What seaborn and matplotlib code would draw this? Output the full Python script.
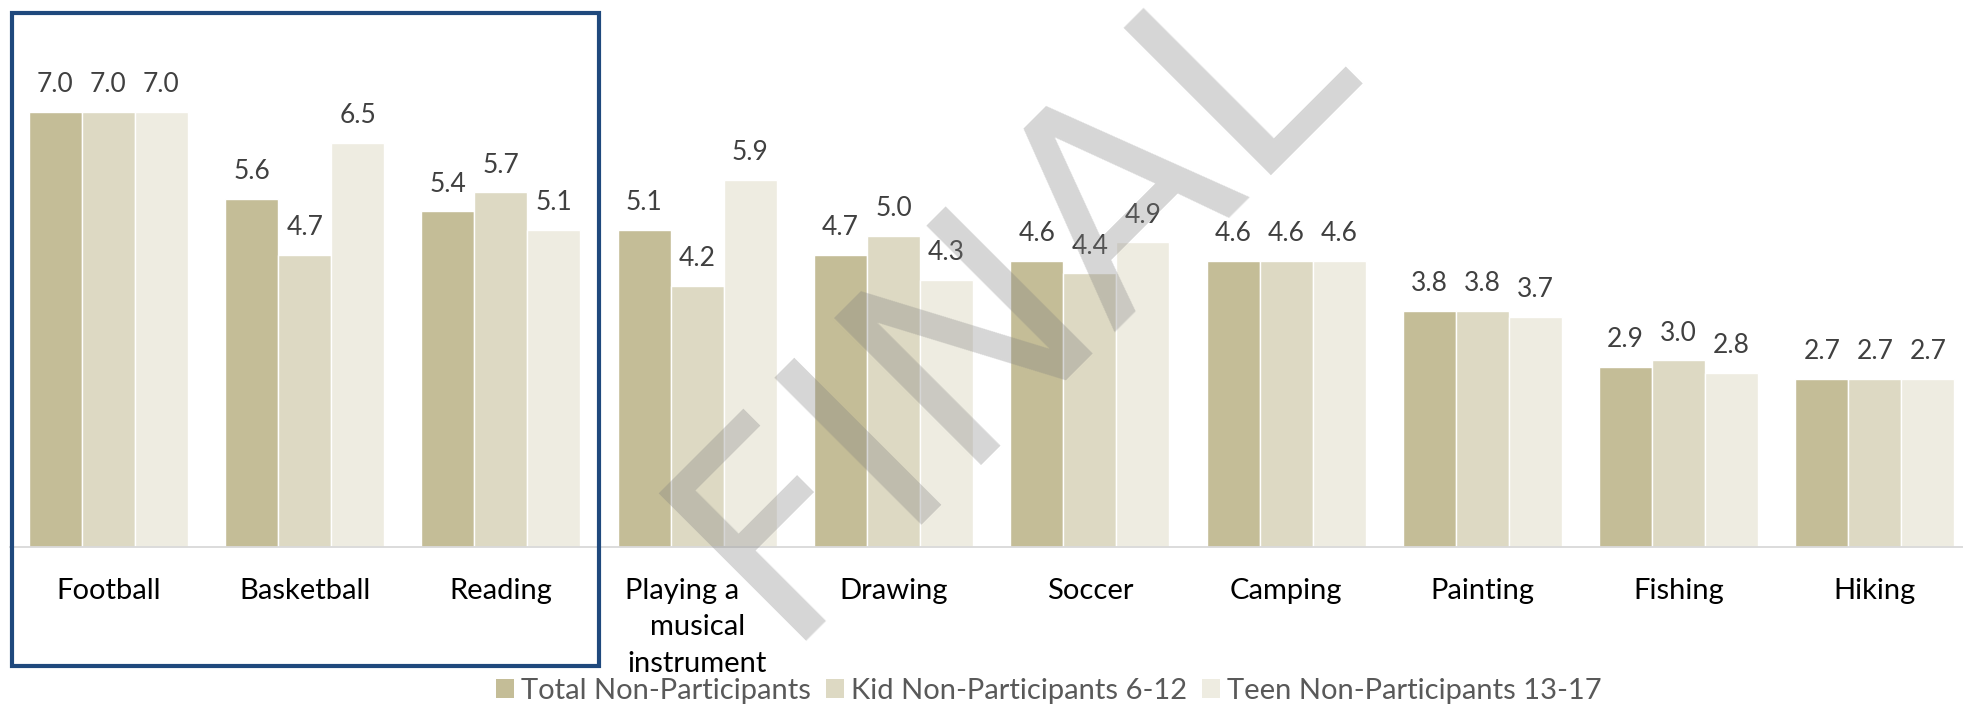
import pandas as pd
import numpy as np
import matplotlib
matplotlib.use("Agg")
import matplotlib.pyplot as plt
import matplotlib.transforms as mtransforms
import seaborn as sns
from matplotlib.patches import Rectangle, Patch

# datos del grafico
actividades = ["Football", "Basketball", "Reading", "Playing a\nmusical\ninstrument",
               "Drawing", "Soccer", "Camping", "Painting", "Fishing", "Hiking"]
total = [7.0, 5.6, 5.4, 5.1, 4.7, 4.6, 4.6, 3.8, 2.9, 2.7]
kid = [7.0, 4.7, 5.7, 4.2, 5.0, 4.4, 4.6, 3.8, 3.0, 2.7]
teen = [7.0, 6.5, 5.1, 5.9, 4.3, 4.9, 4.6, 3.7, 2.8, 2.7]
grupos = ["Total Non-Participants", "Kid Non-Participants 6-12", "Teen Non-Participants 13-17"]
colores = ["#C4BD97", "#DDD9C3", "#EEECE1"]

df = pd.DataFrame({"Actividad": actividades, grupos[0]: total, grupos[1]: kid, grupos[2]: teen})
df_largo = df.melt(id_vars="Actividad", var_name="Grupo", value_name="Valor")

sns.set_style("white")
plt.rcParams["font.family"] = ["Lato", "DejaVu Sans"]

fig = plt.figure(figsize=(19.63, 7.08), dpi=100)
ax = fig.add_axes([10.3 / 1963, 1 - 547 / 708, 1962.7 / 1963, 497.6 / 708])

sns.barplot(data=df_largo, x="Actividad", y="Valor", hue="Grupo", palette=colores,
            width=0.81, saturation=1, legend=False, ax=ax)

# etiquetas de valores
for cont in ax.containers:
    ax.bar_label(cont, labels=[f"{b.get_height():.1f}" for b in cont],
                 padding=10.5, fontsize=19, color="#404040")

ax.set_ylim(0, 8)
ax.set_xlim(-0.5, len(actividades) - 0.5)
ax.set_xlabel("")
ax.set_ylabel("")
ax.set_yticks([])
for lado in ["top", "left", "right"]:
    ax.spines[lado].set_visible(False)
ax.spines["bottom"].set_color("#D9D9D9")
ax.spines["bottom"].set_linewidth(1.3)

# las etiquetas de Excel quedan un poco a la derecha
etiquetas = [a.replace("Playing a\n", "Playing a    \n") for a in actividades]
ax.set_xticks(range(len(actividades)))
ax.set_xticklabels(etiquetas, fontsize=21, color="black")
desplaza = mtransforms.ScaledTranslation(10 / 100, 0, fig.dpi_scale_trans)
for lab in ax.get_xticklabels():
    lab.set_linespacing(1.5)
    if "\n" not in lab.get_text():
        lab.set_transform(lab.get_transform() + desplaza)
ax.set_xticks(np.arange(-0.5, len(actividades)), minor=True)
ax.tick_params(axis="x", which="major", length=0, pad=22)
ax.tick_params(axis="x", which="minor", length=8, width=1.3, color="#D9D9D9", direction="out")

# leyenda
handles = [Patch(facecolor=c, edgecolor="none") for c in colores]
fig.legend(handles, grupos, loc="center", bbox_to_anchor=(1049 / 1963, 1 - 691 / 708),
           ncol=3, frameon=False, fontsize=21, labelcolor="#595959",
           handlelength=0.62, handleheight=0.62, handletextpad=0.25, columnspacing=0.5,
           borderpad=0, borderaxespad=0)

# recuadro azul
fig.patches.append(Rectangle((12 / 1963, 1 - 666 / 708), 587 / 1963, 653 / 708,
                             transform=fig.transFigure, fill=False,
                             edgecolor="#1F497D", linewidth=3.0, zorder=10))

# marca de agua
fig.text(1012 / 1963, 1 - 295 / 708, "FINAL", fontsize=206, color="#808080", alpha=0.32,
         rotation=45, ha="center", va="center", rotation_mode="anchor",
         family="DejaVu Sans", zorder=20)

fig.savefig("out.png", dpi=100)
